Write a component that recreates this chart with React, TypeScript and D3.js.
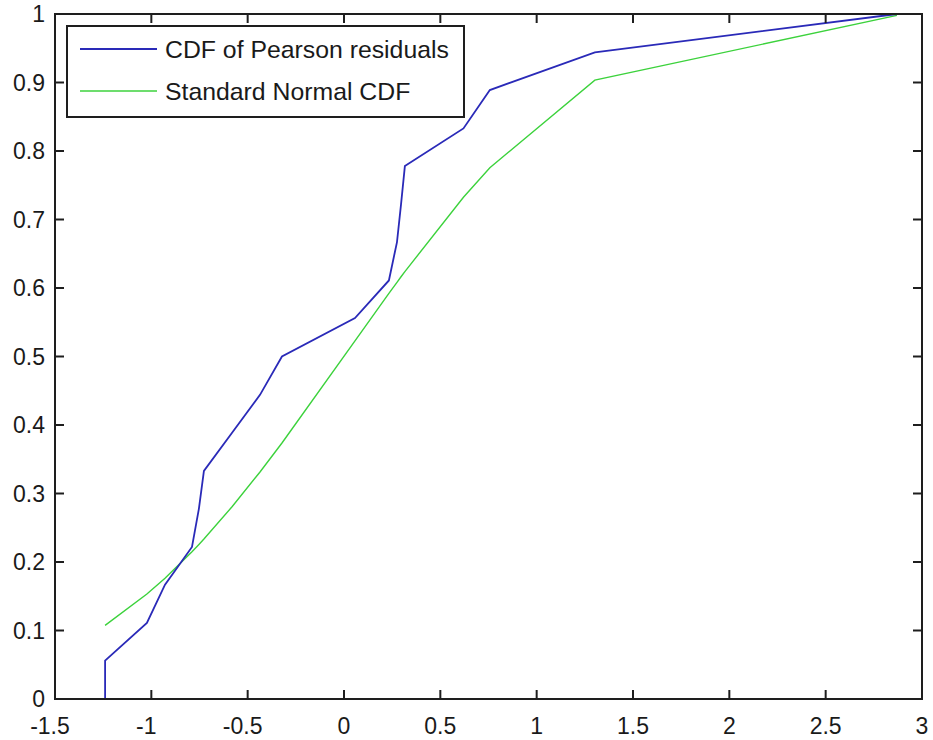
import React from "react";
import * as d3 from "d3";

// Sorted Pearson residuals and their empirical CDF (n = 18)
const residuals = [
  -1.24, -1.24, -1.023, -0.929, -0.789, -0.753, -0.727, -0.58, -0.436, -0.322,
  0.057, 0.233, 0.275, 0.296, 0.316, 0.62, 0.757, 1.302, 2.87,
];
const empiricalCdf = [
  0, 0.056, 0.111, 0.167, 0.222, 0.278, 0.333, 0.389, 0.444, 0.5,
  0.556, 0.611, 0.667, 0.722, 0.778, 0.833, 0.889, 0.944, 1.0,
];

// Standard normal CDF evaluated at the same residuals
const normalX = [
  -1.24, -1.023, -0.929, -0.789, -0.753, -0.727, -0.58, -0.436, -0.322,
  0.057, 0.233, 0.275, 0.296, 0.316, 0.62, 0.757, 1.302, 2.87,
];
const normalCdf = [
  0.1075, 0.1532, 0.1764, 0.2151, 0.2257, 0.2336, 0.281, 0.3314, 0.3737,
  0.5227, 0.5921, 0.6083, 0.6164, 0.624, 0.7324, 0.7755, 0.9035, 0.9979,
];

const xTicks = [-1.5, -1, -0.5, 0, 0.5, 1, 1.5, 2, 2.5, 3];
const yTicks = [0, 0.1, 0.2, 0.3, 0.4, 0.5, 0.6, 0.7, 0.8, 0.9, 1];

const seriesNames = ["CDF of Pearson residuals", "Standard Normal CDF"];
const seriesColors = ["#2a2ab8", "#3cd23c"];

const W = 933;
const H = 740;
const left = 55;
const right = 922;
const top = 14;
const bottom = 699;
const tickLen = 9;
const axisColor = "#1e1e1e";
const font = "'Liberation Sans', Arial, Helvetica, sans-serif";

export default function App() {
  const x = d3.scaleLinear().domain([-1.5, 3]).range([left, right]);
  const y = d3.scaleLinear().domain([0, 1]).range([bottom, top]);

  const line = d3
    .line<[number, number]>()
    .x((d) => x(d[0]))
    .y((d) => y(d[1]));

  const bluePts = residuals.map((r, i) => [r, empiricalCdf[i]] as [number, number]);
  const greenPts = normalX.map((r, i) => [r, normalCdf[i]] as [number, number]);

  const fmt = (v: number) => String(v);

  // legend geometry
  const lg = { x: 67, y: 26, w: 397, h: 91 };
  const rows = [49, 91];

  return (
    <svg
      width={W}
      height={H}
      style={{ position: "absolute", left: 0, top: 0, background: "#fff" }}
      fontFamily={font}
    >
      <rect x={0} y={0} width={W} height={H} fill="#fff" />

      {/* data lines */}
      <path d={line(greenPts) || ""} fill="none" stroke={seriesColors[1]} strokeWidth={1.4} />
      <path d={line(bluePts) || ""} fill="none" stroke={seriesColors[0]} strokeWidth={1.8} />

      {/* axes box */}
      <rect
        x={left}
        y={top}
        width={right - left}
        height={bottom - top}
        fill="none"
        stroke={axisColor}
        strokeWidth={2}
      />

      {/* x ticks */}
      {xTicks.map((t) => (
        <g key={"x" + t}>
          <line x1={x(t)} x2={x(t)} y1={bottom} y2={bottom - tickLen} stroke={axisColor} strokeWidth={2} />
          <line x1={x(t)} x2={x(t)} y1={top} y2={top + tickLen} stroke={axisColor} strokeWidth={2} />
          <text
            x={x(t) - (t < 0 ? 5 : 0)}
            y={734}
            textAnchor="middle"
            fontSize={23}
            fill="#1a1a1a"
          >
            {fmt(t)}
          </text>
        </g>
      ))}

      {/* y ticks */}
      {yTicks.map((t) => (
        <g key={"y" + t}>
          <line x1={left} x2={left + tickLen} y1={y(t)} y2={y(t)} stroke={axisColor} strokeWidth={2} />
          <line x1={right} x2={right - tickLen} y1={y(t)} y2={y(t)} stroke={axisColor} strokeWidth={2} />
          <text
            x={45}
            y={y(t) + 8}
            textAnchor="end"
            fontSize={23}
            fill="#1a1a1a"
          >
            {fmt(t)}
          </text>
        </g>
      ))}

      {/* legend */}
      <rect x={lg.x} y={lg.y} width={lg.w} height={lg.h} fill="#fff" stroke={axisColor} strokeWidth={2} />
      {seriesNames.map((name, i) => (
        <g key={name}>
          <line
            x1={80}
            x2={157}
            y1={rows[i]}
            y2={rows[i]}
            stroke={seriesColors[i]}
            strokeWidth={i === 0 ? 1.8 : 1.6}
          />
          <text x={165} y={rows[i] + 8.5} fontSize={24.8} fill="#1a1a1a">
            {name}
          </text>
        </g>
      ))}
    </svg>
  );
}
